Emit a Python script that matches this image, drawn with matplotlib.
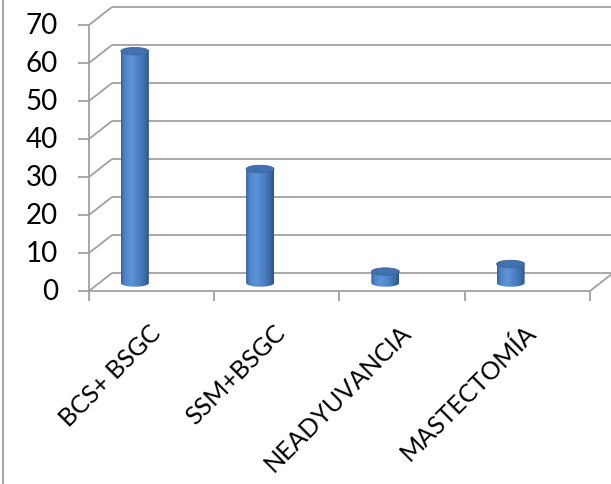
import numpy as np
import matplotlib.pyplot as plt
from matplotlib.patches import Ellipse, PathPatch
from matplotlib.path import Path
from matplotlib.lines import Line2D
from matplotlib.colors import LinearSegmentedColormap

categories = ['BCS+ BSGC', 'SSM+BSGC', 'NEADYUVANCIA', 'MASTECTOMÍA']
values = [61, 30, 3, 5]
yticks = [0, 10, 20, 30, 40, 50, 60, 70]

plt.rcParams['font.family'] = ['Lato', 'DejaVu Sans']

W, H = 611, 485
fig = plt.figure(figsize=(W / 100, H / 100), dpi=100)
fig.patch.set_facecolor('white')

# front frame of the plot in pixels
left, right, bottom, top = 89, 590, 292, 26
ax = fig.add_axes([left / W, 1 - bottom / H, (right - left) / W, (bottom - top) / H])
ax.axis('off')

px_x = (right - left) / 4.0      # pixels per category
px_y = (bottom - top) / 70.0     # pixels per unit
DX = 23 / px_x                   # depth offset of the back wall
DY = 18 / px_y

grid_kw = dict(color='#a0a0a0', lw=1.3, clip_on=False, solid_capstyle='butt')

# walls and gridlines
for v in yticks:
    ax.plot([-0.5, -0.5 + DX], [v, v + DY], **grid_kw)
    ax.plot([-0.5 + DX, 3.5 + DX + 0.3], [v + DY, v + DY], **grid_kw)
    ax.plot([-0.5 - 11 / px_x, -0.5], [v, v], **grid_kw)
    ax.text(-0.5 - 31 / px_x, v, str(v), ha='right', va='center',
            fontsize=20, color='black')

ax.plot([-0.5, -0.5], [0, 70], **grid_kw)
ax.plot([-0.5, 3.5], [0, 0], **grid_kw)
ax.plot([3.5, 3.5 + DX], [0, DY], **grid_kw)
for i in range(5):
    ax.plot([i - 0.5, i - 0.5], [0, -10 / px_y], **grid_kw)

# cylinder shading, left to right
cyl = LinearSegmentedColormap.from_list('cyl', [
    (0.0, '#3a66a0'), (0.15, '#5088cb'), (0.38, '#5c93d7'),
    (0.65, '#4b80c2'), (0.88, '#3b69a5'), (1.0, '#2c5487')])
grad = np.linspace(0, 1, 64).reshape(1, -1)

half_w = 14 / px_x
ell_h = 7.5 / px_y
base = 8 / px_y

for i, v in enumerate(values):
    xc = i - 0.134
    x0, x1 = xc - half_w, xc + half_w
    y_top = base + v
    t = np.linspace(np.pi, 2 * np.pi, 40)
    bx = xc + half_w * np.cos(t)
    by = base + ell_h / 2 * np.sin(t)
    verts = [(x0, y_top)] + list(zip(bx, by)) + [(x1, y_top), (x0, y_top)]
    clip = PathPatch(Path(verts), transform=ax.transData, facecolor='none',
                     edgecolor='none')
    ax.add_patch(clip)
    im = ax.imshow(grad, cmap=cyl, aspect='auto', interpolation='bilinear',
                   extent=[x0, x1, base - ell_h, y_top], zorder=3)
    im.set_clip_path(clip)
    ax.add_patch(Ellipse((xc, y_top), 2 * half_w, ell_h, facecolor='#4271ae',
                         edgecolor='#3a67a2', lw=0.6, zorder=4))

ax.set_xlim(-0.5, 3.5)
ax.set_ylim(0, 70)

for i, name in enumerate(categories):
    ax.text(i + 0.04, -37 / px_y, name, rotation=45, rotation_mode='anchor',
            ha='right', va='center', fontsize=18, color='black')

fig.add_artist(Line2D([2.5 / W, 2.5 / W], [0, 1], transform=fig.transFigure,
                      color='#a6a6a6', lw=1.5))

fig.savefig('out.png', dpi=100)
